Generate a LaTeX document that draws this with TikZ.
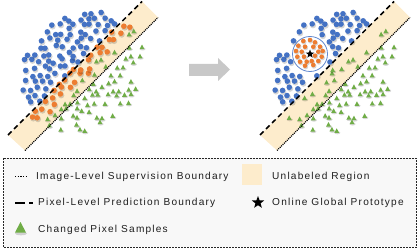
\documentclass[tikz,border=0pt]{standalone}
\usepackage{fontspec}
\newfontfamily\lgfont[LetterSpace=12]{Liberation Sans}
\usetikzlibrary{shapes.geometric}
\definecolor{dotblue}{RGB}{68,114,196}
\definecolor{dotorange}{RGB}{237,125,49}
\definecolor{dotgreen}{RGB}{112,173,71}
\definecolor{bandfill}{RGB}{253,236,204}
\definecolor{arrowgrey}{RGB}{200,200,200}
\definecolor{legendbg}{RGB}{248,248,248}
\definecolor{txt}{RGB}{30,30,30}
\tikzset{
  shadowstyle/.style={fill=black,opacity=0.16},
  dashline/.style={line width=1.5pt,dash pattern=on 5pt off 3.5pt,black},
  dotline/.style={line width=1.3pt,dash pattern=on 1pt off 1pt,black},
  lgtext/.style={anchor=base west,inner sep=0pt,text=txt,font=\lgfont\fontsize{10.1}{12}\selectfont},
  starnode/.style={star,star points=5,star point ratio=2.4,fill=black,inner sep=0pt},
}
\newcommand\mybdot[2]{\fill[shadowstyle] (#1+0.8,#2+1.4) circle (3.1); \fill[dotblue] (#1,#2) circle (2.8);}
\newcommand\myodot[2]{\fill[shadowstyle] (#1+0.8,#2+1.4) circle (3.1); \fill[dotorange] (#1,#2) circle (2.8);}
\newcommand\mysdot[2]{\fill[shadowstyle] (#1+0.6,#2+1.1) circle (2.6); \fill[dotorange] (#1,#2) circle (2.3);}
\newcommand\mygtri[2]{\fill[shadowstyle] (#1+0.6,#2+2.0) ellipse (3 and 1.5); \fill[dotgreen] (#1-2.4,#2+2.1) -- (#1+2.4,#2+2.1) -- (#1,#2-2.5) -- cycle;}
\newcommand\mypanel[1]{%
\pgfmathsetseed{2718}%
\foreach \i in {-10,...,10}{%
 \foreach \j in {-11,...,11}{%
  \pgfmathsetmacro\px{83+8*\i+4*mod(\j+20,2)+2.4*rand}%
  \pgfmathsetmacro\py{68+7*\j+2.4*rand}%
  \pgfmathsetmacro\rr{rnd}%
  \pgfmathsetmacro\rq{rand}%
  \pgfmathsetmacro\sv{\px+\py}%
  \pgfmathsetmacro\dv{((\px-\py-11)/87)^2+((\px+\py-150)/77)^2}%
  \pgfmathsetmacro\dcv{veclen(\px-58,\py-54)}%
  \pgfmathsetmacro\thr{161+6*\rq}%
  \ifnum#1=1
    \ifdim\sv pt<141pt
      \ifdim\dv pt<1.03pt \mybdot{\px}{\py}\fi
    \else
      \ifdim\sv pt<173pt
        \ifdim\dv pt<1.3pt
          \ifdim\sv pt<\thr pt \myodot{\px}{\py}\else\ifdim\rr pt<0.6pt \mygtri{\px}{\py}\fi\fi
        \fi
      \else
        \ifdim\dv pt<1.2pt \ifdim\rr pt<0.62pt \mygtri{\px}{\py}\fi\fi
      \fi
    \fi
  \else
    \ifdim\sv pt<141pt
      \ifdim\dv pt<1.03pt \ifdim\dcv pt>20pt \mybdot{\px}{\py}\fi\fi
    \else
      \ifdim\sv pt>150pt
        \ifdim\sv pt<173pt
          \ifdim\dv pt<1.2pt \ifdim\rr pt<0.45pt \mygtri{\px}{\py}\fi\fi
        \else
          \ifdim\dv pt<1.2pt \ifdim\rr pt<0.62pt \mygtri{\px}{\py}\fi\fi
        \fi
      \fi
    \fi
  \fi
 }}%
}
\begin{document}
\begin{tikzpicture}[x=1pt,y=-1pt]
\useasboundingbox (0,0) rectangle (419,248);
% ---------- left panel ----------
\coordinate (LA) at (8,135);
\coordinate (LB) at (142,1.5);
\coordinate (LC) at (158,17.5);
\coordinate (LD) at (25,150.5);
\fill[bandfill] (LA) -- (LB) -- (LC) -- (LD) -- cycle;
\mypanel{1}
\draw[dashline] (LA) -- (LB);
\draw[dotline] (LD) -- (LC);
% ---------- arrow ----------
\fill[arrowgrey] (189,64) -- (218,64) -- (218,58) -- (230,69.5) -- (218,81) -- (218,76) -- (189,76) -- cycle;
% ---------- right panel ----------
\begin{scope}[xshift=252]
\coordinate (RA) at (8,135);
\coordinate (RB) at (142,1.5);
\coordinate (RC) at (158,17.5);
\coordinate (RD) at (25,150.5);
\fill[bandfill] (RA) -- (RB) -- (RC) -- (RD) -- cycle;
\mypanel{2}
\node[circle,draw=dotblue!85,line width=0.8pt,minimum size=35pt,inner sep=0pt] (proto) at (58,54) {};
\foreach \a/\b in {51.3/41,58/40,63/42.3,46.3/45.7,53/46.7,61.3/46.7,68/46.7,44/51,49.7/51.7,66.3/51.7,70.7/51,45.3/56.7,52/56.7,63/55.7,69.7/56.7,48/61.7,54.7/61.7,59.7/61,66.3/61,53/65.7,61.3/65}{\mysdot{\a}{\b}}
\node[starnode,minimum size=9pt] (pstar) at (58,54) {};
\draw[dashline] (RA) -- (RB);
\draw[dotline] (RD) -- (RC);
\end{scope}
% ---------- legend ----------
\draw[line width=0.6pt,dash pattern=on 2pt off 1pt,black!85,fill=legendbg] (3,158) rectangle (416.5,247);
\coordinate (d1) at (15,176.5);
\coordinate (d2) at (28,176.5);
\draw[line width=1.2pt,dash pattern=on 1.2pt off 1.5pt] (d1) -- (d2);
\node[lgtext] (t1) at (36,179.5) {Image-Level Supervision Boundary};
\coordinate (e1) at (15,203);
\coordinate (e2) at (25,203);
\coordinate (e3) at (29,203);
\coordinate (e4) at (33,203);
\draw[line width=1.4pt] (e1) -- (e2);
\draw[line width=1.4pt] (e3) -- (e4);
\node[lgtext] (t2) at (38,205.5) {Pixel-Level Prediction Boundary};
\fill[shadowstyle] (21,233.5) ellipse (6 and 1.8);
\fill[dotgreen] (15,232.5) -- (26,232.5) -- (20.5,222) -- cycle;
\node[lgtext] (t3) at (38,232.5) {Changed Pixel Samples};
\node[fill=bandfill,minimum width=20pt,minimum height=21pt,inner sep=0pt] (sw) at (252,174.5) {};
\node[lgtext] (t4) at (272,179) {Unlabeled Region};
\node[starnode,minimum size=13pt] (lstar) at (258,202.5) {};
\node[lgtext] (t5) at (272,205.5) {Online Global Prototype};
\end{tikzpicture}
\end{document}
